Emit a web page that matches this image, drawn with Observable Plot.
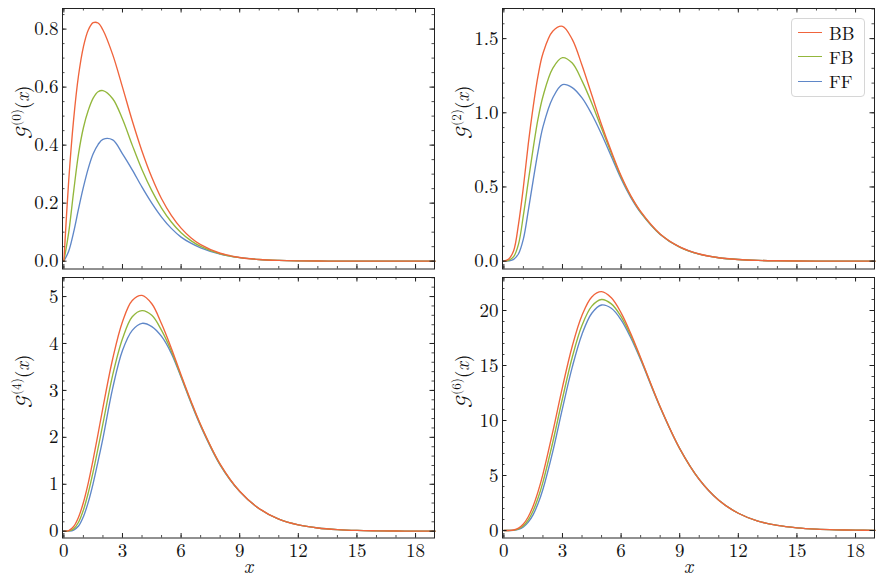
<!DOCTYPE html>
<html>
<head>
<meta charset="utf-8">
<script src="https://cdn.jsdelivr.net/npm/d3@7"></script>
<script src="https://cdn.jsdelivr.net/npm/@observablehq/plot@0.6"></script>
<style>
  body { margin: 0; background: #fff; }
  #wrap { position: relative; width: 883px; height: 588px; overflow: hidden; background: #fff; }
  #wrap > svg { position: absolute; }
  .legend { position: absolute; left: 791px; top: 18px; width: 74px; height: 79px; border: 1px solid #d6d6d6;
            border-radius: 4px; background: rgba(255,255,255,0.85); box-sizing: border-box; }
  .row { position: absolute; left: 6px; height: 18px; display: flex; align-items: center; }
  .sw { width: 24px; height: 0; border-top: 1.5px solid; margin-right: 7px; }
  .lab { font-size: 18px; font-family: 'Latin Modern Roman'; color: #111; line-height: 18px; }
</style>
</head>
<body>
<div id="wrap"></div>
<script>
// ---------- data ----------
const series = ["BB", "FB", "FF"];
const xs = [0, 0.25, 0.5, 0.75, 1, 1.25, 1.5, 1.75, 2, 2.5, 3, 3.5, 4, 4.5, 5, 5.5, 6, 6.5, 7, 8, 9, 10, 11, 12, 13, 14, 15, 16, 17, 18, 19];

const g0BB = [0, 0.280, 0.489, 0.640, 0.739, 0.797, 0.822, 0.821, 0.797, 0.712, 0.600, 0.484, 0.379, 0.289, 0.215, 0.158, 0.114, 0.081, 0.057, 0.0273, 0.0127, 0.0058, 0.0026, 0.0011, 0.0005, 0.0002, 0.0001, 0, 0, 0, 0];
const g0FB = [0, 0.10, 0.24, 0.37, 0.46, 0.52, 0.562, 0.584, 0.588, 0.56, 0.49, 0.40, 0.315, 0.243, 0.183, 0.135, 0.098, 0.071, 0.051, 0.0255, 0.0122, 0.0056, 0.0025, 0.0011, 0.0005, 0.0002, 0.0001, 0, 0, 0, 0];
const g0FF = [0, 0.035, 0.10, 0.18, 0.255, 0.32, 0.37, 0.402, 0.42, 0.418, 0.37, 0.315, 0.255, 0.20, 0.152, 0.113, 0.083, 0.062, 0.046, 0.024, 0.012, 0.0055, 0.0025, 0.0011, 0.0005, 0.0002, 0.0001, 0, 0, 0, 0];

const g2BB = [0, 0.015, 0.07, 0.25, 0.50, 0.79, 1.04, 1.25, 1.40, 1.55, 1.583, 1.495, 1.32, 1.12, 0.92, 0.74, 0.575, 0.44, 0.335, 0.183, 0.096, 0.048, 0.023, 0.011, 0.005, 0.0023, 0.001, 0.0005, 0.0002, 0.0001, 0];
const g2FB = [0, 0.005, 0.03, 0.115, 0.31, 0.54, 0.76, 0.96, 1.11, 1.30, 1.372, 1.335, 1.215, 1.065, 0.895, 0.727, 0.567, 0.436, 0.331, 0.182, 0.095, 0.047, 0.023, 0.011, 0.005, 0.0023, 0.001, 0.0005, 0.0002, 0.0001, 0];
const g2FF = [0, 0.002, 0.012, 0.05, 0.15, 0.34, 0.545, 0.74, 0.905, 1.10, 1.19, 1.17, 1.10, 0.99, 0.855, 0.705, 0.555, 0.428, 0.327, 0.18, 0.094, 0.047, 0.023, 0.011, 0.005, 0.0023, 0.001, 0.0005, 0.0002, 0.0001, 0];

const g4BB = [0, 0.0145, 0.101, 0.298, 0.612, 1.031, 1.530, 2.075, 2.635, 3.675, 4.465, 4.916, 5.025, 4.846, 4.42, 3.90, 3.33, 2.78, 2.27, 1.43, 0.85, 0.48, 0.257, 0.134, 0.068, 0.034, 0.016, 0.008, 0.0036, 0.0017, 0.0008];
const g4FB = [0, 0.005, 0.05, 0.19, 0.45, 0.82, 1.27, 1.77, 2.29, 3.33, 4.10, 4.57, 4.70, 4.60, 4.28, 3.84, 3.30, 2.76, 2.26, 1.42, 0.848, 0.479, 0.257, 0.134, 0.068, 0.034, 0.016, 0.008, 0.0036, 0.0017, 0.0008];
const g4FF = [0, 0.002, 0.025, 0.11, 0.31, 0.62, 1.02, 1.49, 1.98, 3.05, 3.85, 4.28, 4.43, 4.36, 4.15, 3.79, 3.28, 2.74, 2.24, 1.41, 0.845, 0.478, 0.256, 0.134, 0.068, 0.034, 0.016, 0.008, 0.0036, 0.0017, 0.0008];

const g6BB = [0, 0.0035, 0.049, 0.218, 0.596, 1.255, 2.233, 3.535, 5.129, 8.943, 13.04, 16.75, 19.56, 21.23, 21.71, 21.15, 19.79, 17.89, 15.71, 11.26, 7.46, 4.65, 2.75, 1.57, 0.86, 0.46, 0.24, 0.12, 0.06, 0.029, 0.014];
const g6FB = [0, 0.002, 0.03, 0.15, 0.44, 0.97, 1.80, 2.95, 4.40, 8.0, 12.0, 15.75, 18.65, 20.4, 21.0, 20.6, 19.45, 17.7, 15.63, 11.23, 7.45, 4.645, 2.75, 1.57, 0.86, 0.46, 0.24, 0.12, 0.06, 0.029, 0.014];
const g6FF = [0, 0.001, 0.018, 0.10, 0.32, 0.76, 1.45, 2.45, 3.75, 7.15, 11.1, 14.85, 17.85, 19.75, 20.5, 20.2, 19.15, 17.5, 15.52, 11.19, 7.44, 4.64, 2.75, 1.57, 0.86, 0.46, 0.24, 0.12, 0.06, 0.029, 0.014];

const xTicks = [0, 3, 6, 9, 12, 15, 18];
const yTicks0 = [0, 0.2, 0.4, 0.6, 0.8];
const yTicks2 = [0, 0.5, 1.0, 1.5];
const yTicks4 = [0, 1, 2, 3, 4, 5];
const yTicks6 = [0, 5, 10, 15, 20];
const orders = ["0", "2", "4", "6"];

// ---------- styling / layout ----------
const colors = { BB: "#f0643c", FB: "#93b73c", FF: "#5f87c8" };
const FONT = "Latin Modern Roman";
const INK = "#222";
const FS = 19;
const xDomain = [-0.07, 18.97];

const panels = [
  { left: 0,   top: 0,   w: 440, h: 275, mt: 8, mb: 6.5, data: { BB: g0BB, FB: g0FB, FF: g0FF }, yDomain: [-0.027, 0.871], yTicks: yTicks0, yMinor: 0.05, fmt: d3.format(".1f"), ord: orders[0], xLabels: false },
  { left: 440, top: 0,   w: 440, h: 275, mt: 8, mb: 6.5, data: { BB: g2BB, FB: g2FB, FF: g2FF }, yDomain: [-0.053, 1.703], yTicks: yTicks2, yMinor: 0.1, fmt: d3.format(".1f"), ord: orders[1], xLabels: false },
  { left: 0,   top: 270, w: 440, h: 318, mt: 7, mb: 50.5, data: { BB: g4BB, FB: g4FB, FF: g4FF }, yDomain: [-0.145, 5.406], yTicks: yTicks4, yMinor: 0.2, fmt: d3.format("d"), ord: orders[2], xLabels: true },
  { left: 440, top: 270, w: 440, h: 318, mt: 7, mb: 50.5, data: { BB: g6BB, FB: g6FB, FF: g6FF }, yDomain: [-0.68, 23.0], yTicks: yTicks6, yMinor: 1, fmt: d3.format("d"), ord: orders[3], xLabels: true }
];
const ML = 62, MR = 6;

function minorTicks(dom, step) {
  const out = [];
  const n0 = Math.ceil(dom[0] / step), n1 = Math.floor(dom[1] / step);
  for (let k = n0; k <= n1; k++) out.push(+(k * step).toFixed(6));
  return out;
}

const wrap = document.getElementById("wrap");

panels.forEach(p => {
  const innerW = p.w - ML - MR;
  const innerH = p.h - p.mt - p.mb;
  const xMinor = minorTicks(xDomain, 1);
  const yMinor = minorTicks(p.yDomain, p.yMinor);
  const label = "𝒢(" + p.ord + ")(x)";

  const marks = [];
  ["FF", "FB", "BB"].forEach(s => {
    const rows = xs.map((x, i) => ({ x, y: p.data[s][i] }));
    marks.push(Plot.line(rows, { x: "x", y: "y", stroke: colors[s], strokeWidth: 1.35, curve: "catmull-rom" }));
  });
  // inward ticks on all four sides
  marks.push(
    Plot.tickX(xTicks, { x: d => d, insetTop: innerH - 4.5, stroke: INK }),
    Plot.tickX(xTicks, { x: d => d, insetBottom: innerH - 4.5, stroke: INK }),
    Plot.tickX(xMinor, { x: d => d, insetTop: innerH - 2.5, stroke: INK, strokeWidth: 0.8 }),
    Plot.tickX(xMinor, { x: d => d, insetBottom: innerH - 2.5, stroke: INK, strokeWidth: 0.8 }),
    Plot.tickY(p.yTicks, { y: d => d, insetRight: innerW - 4.5, stroke: INK }),
    Plot.tickY(p.yTicks, { y: d => d, insetLeft: innerW - 4.5, stroke: INK }),
    Plot.tickY(yMinor, { y: d => d, insetRight: innerW - 2.5, stroke: INK, strokeWidth: 0.8 }),
    Plot.tickY(yMinor, { y: d => d, insetLeft: innerW - 2.5, stroke: INK, strokeWidth: 0.8 }),
    Plot.frame({ stroke: INK, strokeWidth: 1 }),
    Plot.axisY({ ticks: p.yTicks, tickSize: 0, tickPadding: 4, tickFormat: p.fmt, fontSize: FS, fontFamily: FONT, label: null }),
    Plot.text([label], { text: d => d, frameAnchor: "left", dx: -40, rotate: -90, fontSize: FS, fontFamily: FONT })
  );
  if (p.xLabels) {
    marks.push(
      Plot.axisX({ ticks: xTicks, tickSize: 0, tickPadding: 5, tickFormat: d3.format("d"), fontSize: FS, fontFamily: FONT, label: null }),
      Plot.text(["x"], { text: d => d, frameAnchor: "bottom", dy: 35, fontSize: 20, fontStyle: "italic", fontFamily: FONT })
    );
  }

  const svg = Plot.plot({
    width: p.w, height: p.h,
    marginLeft: ML, marginRight: MR, marginTop: p.mt, marginBottom: p.mb,
    x: { domain: xDomain, axis: p.xLabels ? undefined : null },
    y: { domain: p.yDomain },
    style: { background: "transparent", fontSize: FS + "px", overflow: "visible", color: "#111" },
    marks
  });
  svg.style.left = p.left + "px";
  svg.style.top = p.top + "px";

  // rebuild the y label with superscript and italic parts
  svg.querySelectorAll("text").forEach(t => {
    if (t.textContent === label) {
      t.textContent = "";
      const ns = "http://www.w3.org/2000/svg";
      const parts = [
        { s: "𝒢", attrs: { "font-family": "Latin Modern Math" } },
        { s: "(" + p.ord + ")", attrs: { "font-size": 13, dy: -7.5 } },
        { s: "(", attrs: { dy: 7.5 } },
        { s: "x", attrs: { "font-style": "italic" } },
        { s: ")", attrs: {} }
      ];
      parts.forEach(part => {
        const ts = document.createElementNS(ns, "tspan");
        ts.textContent = part.s;
        Object.entries(part.attrs).forEach(([k, v]) => ts.setAttribute(k, v));
        t.appendChild(ts);
      });
    }
  });
  wrap.appendChild(svg);
});

// legend (top-right panel)
const legend = document.createElement("div");
legend.className = "legend";
series.forEach((s, i) => {
  const row = document.createElement("div");
  row.className = "row";
  row.style.top = (4.5 + i * 24.3) + "px";
  row.innerHTML = `<span class="sw" style="border-color:${colors[s]}"></span><span class="lab">${s}</span>`;
  legend.appendChild(row);
});
wrap.appendChild(legend);
</script>
</body>
</html>
